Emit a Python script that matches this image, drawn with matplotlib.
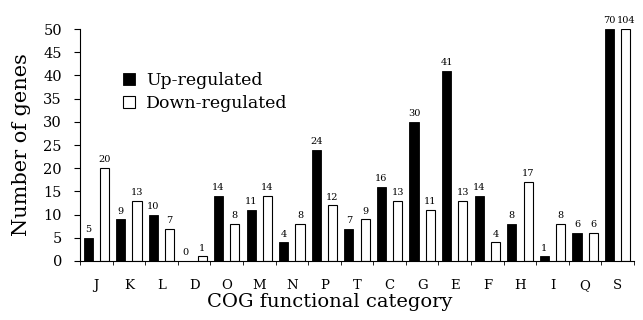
import matplotlib
matplotlib.use("Agg")
import matplotlib.pyplot as plt
import numpy as np

categories = ["J", "K", "L", "D", "O", "M", "N", "P", "T", "C", "G", "E", "F", "H", "I", "Q", "S"]
up_values = [5, 9, 10, 0, 14, 11, 4, 24, 7, 16, 30, 41, 14, 8, 1, 6, 70]
down_values = [20, 13, 7, 1, 8, 14, 8, 12, 9, 13, 11, 13, 4, 17, 8, 6, 104]
yticks = list(range(0, 51, 5))

plt.rcParams['font.family'] = ['DejaVu Serif']

fig = plt.figure(figsize=(6.43, 3.2), dpi=100)
ax = fig.add_axes([80/643, 1-261/320, (634-80)/643, (261-29)/320])

x = np.arange(len(categories))
w = 0.28
off = 0.25
ymax = 50
up_clip = [min(v, ymax) for v in up_values]
down_clip = [min(v, ymax) for v in down_values]
ax.bar(x - off, up_clip, width=w, color='black', edgecolor='black', linewidth=0.6, label='Up-regulated')
ax.bar(x + off, down_clip, width=w, color='white', edgecolor='black', linewidth=0.8, label='Down-regulated')

for xi, v, vc in zip(x - off, up_values, up_clip):
    ax.text(xi, vc + 0.8, str(v), ha='center', va='bottom', fontsize=7, clip_on=False)
for xi, v, vc in zip(x + off, down_values, down_clip):
    ax.text(xi, vc + 0.8, str(v), ha='center', va='bottom', fontsize=7, clip_on=False)

ax.set_xlim(-0.5, len(categories) - 0.5)
ax.set_ylim(0, ymax)
ax.set_yticks(yticks)
ax.set_yticklabels([str(t) for t in yticks], fontsize=10.5)
ax.set_xticks(x)
ax.set_xticklabels(categories, fontsize=9.5)
ax.tick_params(axis='x', length=0, pad=13)
ax.set_xticks(np.arange(-0.5, len(categories), 1), minor=True)
ax.tick_params(axis='x', which='minor', length=3, direction='out')
ax.tick_params(axis='y', length=4, direction='out', pad=9)

for s in ['top', 'right']:
    ax.spines[s].set_visible(False)

ax.set_ylabel('Number of genes', fontsize=15, labelpad=9)
ax.set_xlabel('COG functional category', fontsize=14, labelpad=4)
ax.xaxis.set_label_coords(0.45, -0.14)

ax.legend(loc='upper left', bbox_to_anchor=(0.05, 0.88), frameon=False, fontsize=12.5,
          handlelength=0.7, handleheight=0.7, handletextpad=0.6, labelspacing=0.3)

fig.savefig('out.png', dpi=100)
